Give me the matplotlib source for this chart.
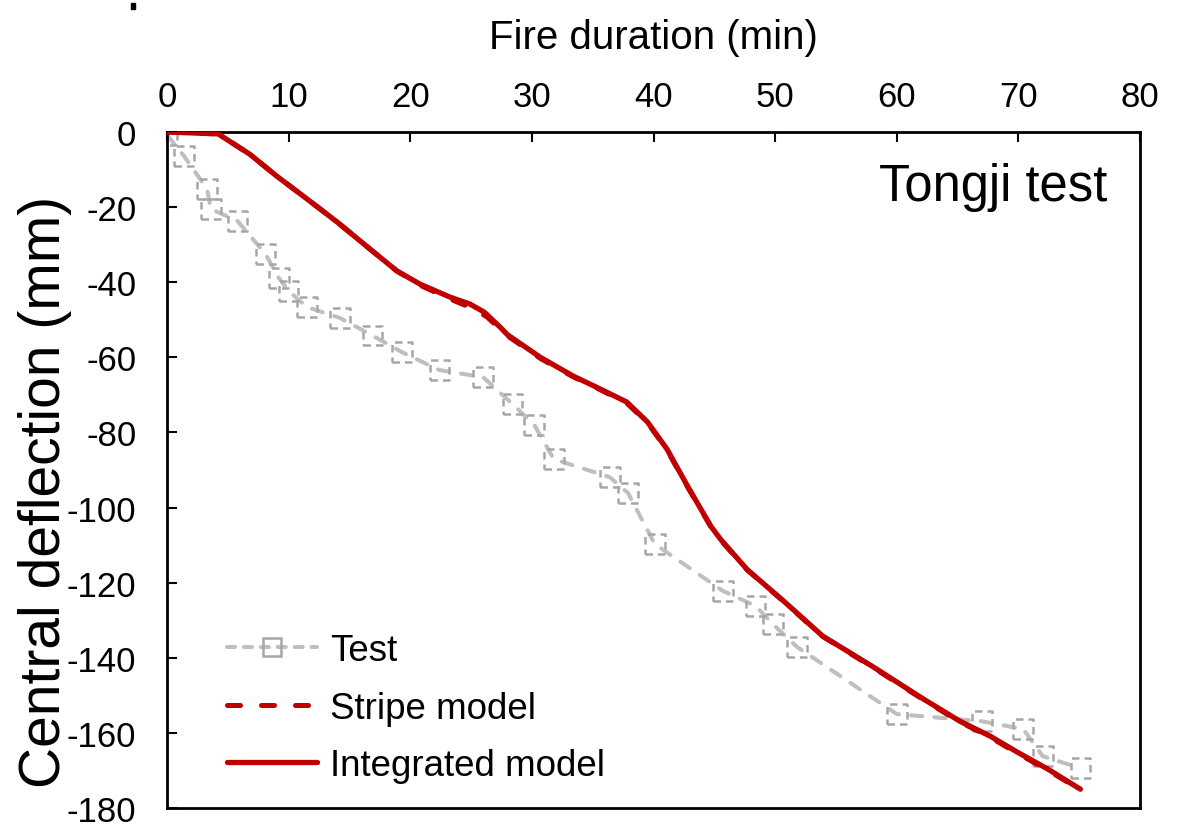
import matplotlib
matplotlib.use("Agg")
import matplotlib.pyplot as plt
from matplotlib.lines import Line2D
from matplotlib.patches import Rectangle

plt.rcParams['font.family'] = ['Liberation Sans', 'DejaVu Sans']
plt.rcParams['axes.unicode_minus'] = False

# ---- data ----
test_t = [0, 1.4, 3.3, 3.6, 5.8, 8.1, 9.2, 10.0, 11.5, 14.2, 16.9, 19.3, 22.4, 26.0,
          28.4, 30.2, 31.8, 36.4, 37.9, 40.1, 45.7, 48.4, 49.8, 51.8, 60.0, 67.0,
          70.4, 72.0, 75.1]
test_d = [-0.8, -6.4, -15.2, -20.5, -23.7, -32.5, -38.9, -42.3, -46.6, -49.5, -54.2,
          -58.6, -63.4, -65.3, -72.4, -78.0, -87.1, -91.9, -96.1, -109.7, -122.2,
          -126.2, -131.0, -137.1, -155.0, -156.9, -159.0, -166.2, -169.4]

integ_t = [0, 4.2, 6.8, 9.0, 11.5, 14.0, 16.4, 18.9, 20.8, 23.3, 24.9, 26.1, 27.4, 28.0,
           30.7, 33.4, 35.6, 37.8, 39.5, 41.1, 42.8, 44.7, 45.5, 47.7, 50.7, 53.9,
           58.1, 62.2, 65.2, 67.7, 69.9, 72.4, 74.8, 75.1]
integ_d = [0, -0.5, -5.9, -11.7, -17.8, -24.0, -30.4, -37.0, -40.5, -44.0, -45.8, -48.0,
           -52.0, -54.0, -60.0, -65.0, -68.4, -71.9, -77.2, -84.4, -94.3, -104.9,
           -108.4, -116.5, -124.9, -134.2, -142.5, -151.0, -156.9, -160.9, -165.1,
           -169.6, -174.4, -175.0]

stripe_t = [0, 4.2, 6.8, 9.0, 11.5, 14.0, 16.4, 18.9, 20.8, 23.3, 25.0, 26.3, 27.4, 28.0,
            30.7, 33.4, 35.6, 37.8, 39.5, 41.1, 42.8, 44.7, 45.5, 47.7, 50.7, 53.9,
            58.1, 62.2, 65.2, 67.7, 69.9, 72.4, 74.8, 75.1]
stripe_d = [0, -0.5, -5.9, -11.7, -17.8, -24.0, -30.4, -37.0, -40.8, -44.5, -46.8, -49.2,
            -52.5, -54.3, -60.3, -65.2, -68.6, -72.2, -77.4, -84.6, -94.5, -105.0,
            -108.6, -116.6, -125.0, -134.3, -142.7, -151.2, -157.1, -161.2, -165.4,
            -169.9, -174.6, -175.2]

x_ticks = [0, 10, 20, 30, 40, 50, 60, 70, 80]
y_ticks = [0, -20, -40, -60, -80, -100, -120, -140, -160, -180]

# ---- figure ----
fig = plt.figure(figsize=(11.78, 8.29), dpi=100)
ax = fig.add_axes([167/1178, 1 - 809/829, (1140-167)/1178, (809-133)/829])

red = '#c00000'
gray_line = '#bfbfbf'
gray_mark = '#a6a6a6'
l_stripe, = ax.plot(stripe_t, stripe_d, color=red, lw=3.6, dashes=(2.6, 4.2),
                    dash_capstyle='round', solid_capstyle='round', zorder=2)
l_integ, = ax.plot(integ_t, integ_d, color=red, lw=3.8, solid_capstyle='round',
                   solid_joinstyle='round', zorder=3)
l_test, = ax.plot(test_t, test_d, color=gray_line, lw=2.9, dashes=(2.8, 3.0),
                  dash_capstyle='round', zorder=1)
ax.scatter(test_t, test_d, marker='s', s=200, facecolors='none',
           edgecolors=gray_mark, linewidths=1.8, linestyles=(0, (3, 2)), zorder=1.5)

ax.set_xlim(0, 80)
ax.set_ylim(-180, 0)
ax.set_xticks(x_ticks)
ax.set_yticks(y_ticks)
ax.xaxis.tick_top()
ax.xaxis.set_label_position('top')
ax.tick_params(axis='x', direction='in', length=7, width=1.5, labelsize=25, pad=14,
               top=True, bottom=False)
ax.tick_params(axis='y', direction='in', length=7, width=1.5, labelsize=25, pad=22,
               left=True, right=False)
for s in ax.spines.values():
    s.set_linewidth(2.0)

ax.set_xlabel('Fire duration (min)', fontsize=29, labelpad=23)
ax.set_ylabel('Central deflection (mm)', fontsize=41)
ax.yaxis.label.set_va('center')
ax.yaxis.set_label_coords((45 - 167) / 973, (809 - 492) / 676)

ax.text(0.966, 0.955, 'Tongji test', transform=ax.transAxes, ha='right', va='top',
        fontsize=36.5)

test_proxy = Line2D([], [], color=gray_line, lw=2.9, dashes=(2.0, 2.2),
                    dash_capstyle='round', marker='s', markersize=13,
                    markerfacecolor='none', markeredgecolor=gray_mark,
                    markeredgewidth=1.8)
leg = ax.legend([test_proxy, l_stripe, l_integ],
                ['Test', 'Stripe model', 'Integrated model'],
                loc='lower left', bbox_to_anchor=(0.062, 0.037), frameon=False,
                fontsize=26.5, handlelength=2.45, handletextpad=0.33,
                labelspacing=0.61, borderpad=0, borderaxespad=0, numpoints=1)

fig.patches.append(Rectangle((131/1178, 1 - 10/829), 4/1178, 6/829,
                             transform=fig.transFigure, color='black'))

fig.savefig('out.png', dpi=100)
